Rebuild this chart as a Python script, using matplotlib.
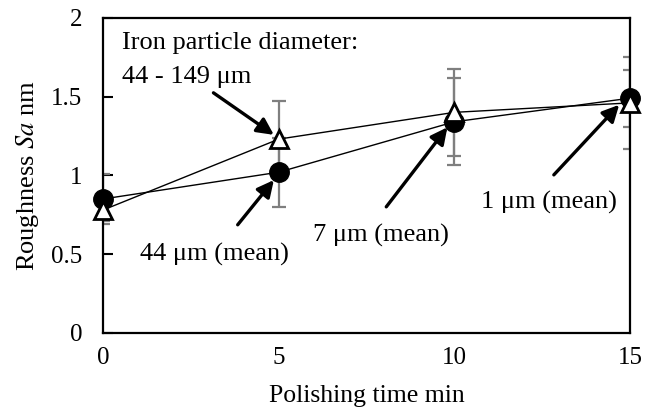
import matplotlib
matplotlib.use("Agg")
import matplotlib.pyplot as plt

plt.rcParams["font.family"] = ["Liberation Serif", "DejaVu Serif"]
plt.rcParams["mathtext.fontset"] = "stix"

# ── Data ────────────────────────────────────────────────────────────
time_min = [0, 5, 10, 15]

# fine particles (filled circles)
sa_fine = [0.85, 1.02, 1.34, 1.49]
err_fine = [0.16, 0.22, 0.275, 0.18]

# coarse particles, 44 - 149 um (open triangles)
sa_coarse = [0.78, 1.23, 1.40, 1.46]
err_coarse = [0.07, 0.24, 0.275, 0.29]

y_ticks = [0, 0.5, 1, 1.5, 2]
y_tick_labels = ["0", "0.5", "1", "1.5", "2"]
x_ticks = [0, 5, 10, 15]

# ── Figure ──────────────────────────────────────────────────────────
fig = plt.figure(figsize=(6.57, 4.15), dpi=100)
ax = fig.add_axes([0.157, 0.198, 0.802, 0.759])

err_style = dict(fmt="none", ecolor="#7f7f7f", elinewidth=1.6,
                 capsize=5, capthick=1.6, zorder=2)
ax.errorbar(time_min, sa_coarse, yerr=err_coarse, **err_style)
ax.errorbar(time_min, sa_fine, yerr=err_fine, **err_style)

ax.plot(time_min, sa_fine, color="black", lw=1.0, marker="o",
        markersize=14, markerfacecolor="black", markeredgecolor="black",
        zorder=3, clip_on=False)
ax.plot(time_min, sa_coarse, color="black", lw=1.0, marker="^",
        markersize=13, markerfacecolor="white", markeredgecolor="black",
        markeredgewidth=2, zorder=4, clip_on=False)

ax.set_xlim(0, 15)
ax.set_ylim(0, 2)
ax.set_xticks(x_ticks)
ax.set_yticks(y_ticks)
ax.set_yticklabels(y_tick_labels)
ax.tick_params(axis="y", direction="in", length=7, width=1.5,
               labelsize=18, pad=15)
ax.tick_params(axis="x", length=0, labelsize=18, pad=10)
for sp in ax.spines.values():
    sp.set_linewidth(1.6)

ax.set_xlabel("Polishing time min", fontsize=18.5, labelpad=12)
ax.set_ylabel(r"Roughness $\mathit{Sa}$ nm", fontsize=19, labelpad=7)

# ── Annotations ─────────────────────────────────────────────────────
arrow = dict(arrowstyle="-|>,head_length=1.0,head_width=0.5",
             color="black", lw=2.4, shrinkA=0, shrinkB=0)
fs = 19

ax.text(0.54, 1.84, "Iron particle diameter:", fontsize=fs,
        va="center", ha="left")
ax.text(0.54, 1.625, "44 - 149 \u03bcm", fontsize=fs, va="center", ha="left")
ax.annotate("", xy=(4.86, 1.257), xytext=(3.14, 1.524), arrowprops=arrow)

ax.annotate("", xy=(4.86, 0.97), xytext=(3.83, 0.686), arrowprops=arrow)
ax.text(1.06, 0.495, "44 \u03bcm (mean)", fontsize=fs, va="center", ha="left")

ax.annotate("", xy=(9.8, 1.305), xytext=(8.06, 0.80), arrowprops=arrow)
ax.text(5.97, 0.62, "7 \u03bcm (mean)", fontsize=fs, va="center", ha="left")

ax.annotate("", xy=(14.69, 1.448), xytext=(12.83, 1.003), arrowprops=arrow)
ax.text(10.77, 0.825, "1 \u03bcm (mean)", fontsize=fs, va="center", ha="left")

fig.savefig("out.png", dpi=100)
